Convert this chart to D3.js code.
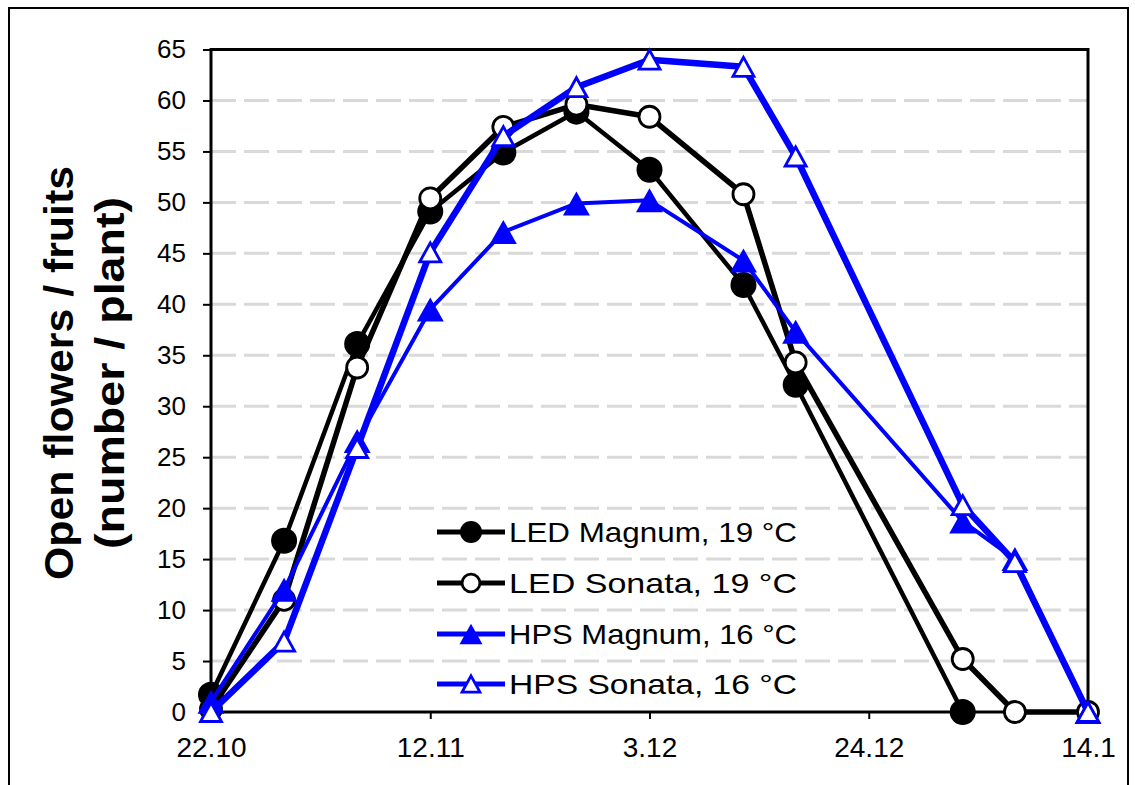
<!DOCTYPE html>
<html><head><meta charset="utf-8">
<script src="https://cdn.jsdelivr.net/npm/d3@7"></script>
<style>html,body{margin:0;padding:0;background:#fff;}svg{display:block;}</style>
</head><body>
<script>
const dates = ["2012-10-22","2012-10-29","2012-11-05","2012-11-12","2012-11-19","2012-11-26","2012-12-03","2012-12-12","2012-12-17","2013-01-02","2013-01-07","2013-01-14"];
const ledMagnum = [1.7, 16.8, 36.1, 49.1, 54.9, 58.9, 53.2, 41.9, 32.1, 0, null, null];
const ledSonata = [0.3, 11.0, 33.8, 50.4, 57.4, 59.6, 58.4, 50.8, 34.3, 5.2, 0, 0];
const hpsMagnum = [1.0, 12.0, 26.6, 39.5, 47.1, 49.9, 50.2, 44.3, 37.3, 18.7, 15.0, 0];
const hpsSonata = [0, 6.9, 25.9, 45.1, 56.5, 61.3, 64.0, 63.3, 54.5, 20.3, 14.7, 0];
const seriesNames = ["LED Magnum, 19 °C", "LED Sonata, 19 °C", "HPS Magnum, 16 °C", "HPS Sonata, 16 °C"];
const xTickDates = ["2012-10-22","2012-11-12","2012-12-03","2012-12-24","2013-01-14"];
const yTicks = [0,5,10,15,20,25,30,35,40,45,50,55,60,65];
const yTitle = ["Open flowers / fruits", "(number / plant)"];

const W = 1135, H = 785;
const L = 211, R = 1088, T = 49.5, B = 712;
const parse = d3.timeParse("%Y-%m-%d");
const fmt = d3.timeFormat("%-d.%-m");

const svg = d3.select("body").append("svg").attr("width", W).attr("height", H);
const FONT = "'Liberation Sans', Arial, sans-serif";

// outer frame
svg.append("rect").attr("x", 9).attr("y", 8).attr("width", 1119).attr("height", 800)
  .attr("fill", "none").attr("stroke", "#000").attr("stroke-width", 2);

const x = d3.scaleTime().domain([parse(dates[0]), parse(dates[dates.length-1])]).range([L, R]);
const y = d3.scaleLinear().domain([0, 65]).range([B, T]);

// gridlines
svg.append("g").selectAll("line").data(yTicks.filter(v => v > 0 && v < 65)).join("line")
  .attr("x1", L).attr("x2", R).attr("y1", d => y(d)).attr("y2", d => y(d))
  .attr("stroke", "#d9d9d9").attr("stroke-width", 3).attr("stroke-dasharray", "25,8");

// axes
const yAxis = svg.append("g").attr("transform", `translate(${L},0)`)
  .call(d3.axisLeft(y).tickValues(yTicks).tickSize(8).tickPadding(17));
yAxis.select(".domain").remove();
yAxis.selectAll(".tick line").attr("stroke", "#000").attr("stroke-width", 2);
yAxis.selectAll(".tick text").attr("font-family", FONT).attr("font-size", 26).attr("fill", "#000");

const xAxis = svg.append("g").attr("transform", `translate(0,${B})`)
  .call(d3.axisBottom(x).tickValues(xTickDates.map(parse)).tickFormat(fmt).tickSize(7).tickPadding(18));
xAxis.select(".domain").remove();
xAxis.selectAll(".tick line").attr("stroke", "#000").attr("stroke-width", 2)
  .attr("opacity", (d, i) => (i === 0 || i === xTickDates.length - 1) ? 0 : 1);
xAxis.selectAll(".tick text").attr("font-family", FONT).attr("font-size", 28).attr("fill", "#000");

// plot frame
svg.append("rect").attr("x", L).attr("y", T).attr("width", R - L).attr("height", B - T)
  .attr("fill", "none").attr("stroke", "#000").attr("stroke-width", 3);

// y title
const tg = svg.append("g");
yTitle.forEach((t, i) => {
  tg.append("text")
    .attr("transform", `translate(${i === 0 ? 73 : 124},373) rotate(-90)`)
    .attr("text-anchor", "middle").attr("font-family", FONT).attr("font-weight", "bold")
    .attr("font-size", 40).attr("fill", "#000").text(t)
    .attr("textLength", i === 0 ? 414 : 352).attr("lengthAdjust", "spacingAndGlyphs");
});

// series
const series = [
  {name: seriesNames[0], values: ledMagnum, color: "#000", lw: 4.5, marker: "circle", fill: true},
  {name: seriesNames[1], values: ledSonata, color: "#000", lw: 5.5, marker: "circle", fill: false},
  {name: seriesNames[2], values: hpsMagnum, color: "#0000ff", lw: 4, marker: "triangle", fill: true},
  {name: seriesNames[3], values: hpsSonata, color: "#0000ff", lw: 6.5, marker: "triangle", fill: false},
];

function triPath(w, h) {
  return `M0,${-h/2}L${w/2},${h/2}L${-w/2},${h/2}Z`;
}
function drawMarker(g, s, cx, cy, scale) {
  scale = scale || 1;
  if (s.marker === "circle") {
    if (s.fill) g.append("circle").attr("cx", cx).attr("cy", cy).attr("r", 13 * scale).attr("fill", s.color);
    else g.append("circle").attr("cx", cx).attr("cy", cy).attr("r", 10.5 * scale).attr("fill", "#fff")
      .attr("stroke", s.color).attr("stroke-width", 2.8);
  } else {
    if (s.fill) g.append("path").attr("d", triPath(27 * scale, 24 * scale)).attr("transform", `translate(${cx},${cy})`).attr("fill", s.color);
    else g.append("path").attr("d", triPath(21 * scale, 19 * scale)).attr("transform", `translate(${cx},${cy})`)
      .attr("fill", "#fff").attr("stroke", s.color).attr("stroke-width", 2.8).attr("stroke-linejoin", "miter");
  }
}

const line = d3.line().defined(d => d.v !== null).x(d => x(d.t)).y(d => y(d.v));
series.forEach(s => {
  const pts = dates.map((d, i) => ({t: parse(d), v: s.values[i]}));
  const g = svg.append("g");
  g.append("path").datum(pts).attr("d", line).attr("fill", "none")
    .attr("stroke", s.color).attr("stroke-width", s.lw).attr("stroke-linejoin", "round");
  pts.filter(p => p.v !== null).forEach(p => drawMarker(g, s, x(p.t), y(p.v)));
});

// legend
const legY = [532, 583, 634, 684];
series.forEach((s, i) => {
  const g = svg.append("g");
  g.append("line").attr("x1", 437).attr("x2", 505).attr("y1", legY[i]).attr("y2", legY[i])
    .attr("stroke", s.color).attr("stroke-width", 5);
  drawMarker(g, s, 471, legY[i], 0.85);
  g.append("text").attr("x", 509).attr("y", legY[i]).attr("dy", "0.36em")
    .attr("font-family", FONT).attr("font-size", 28).attr("fill", "#000").text(s.name)
    .attr("textLength", 288).attr("lengthAdjust", "spacingAndGlyphs");
});
</script>
</body></html>
